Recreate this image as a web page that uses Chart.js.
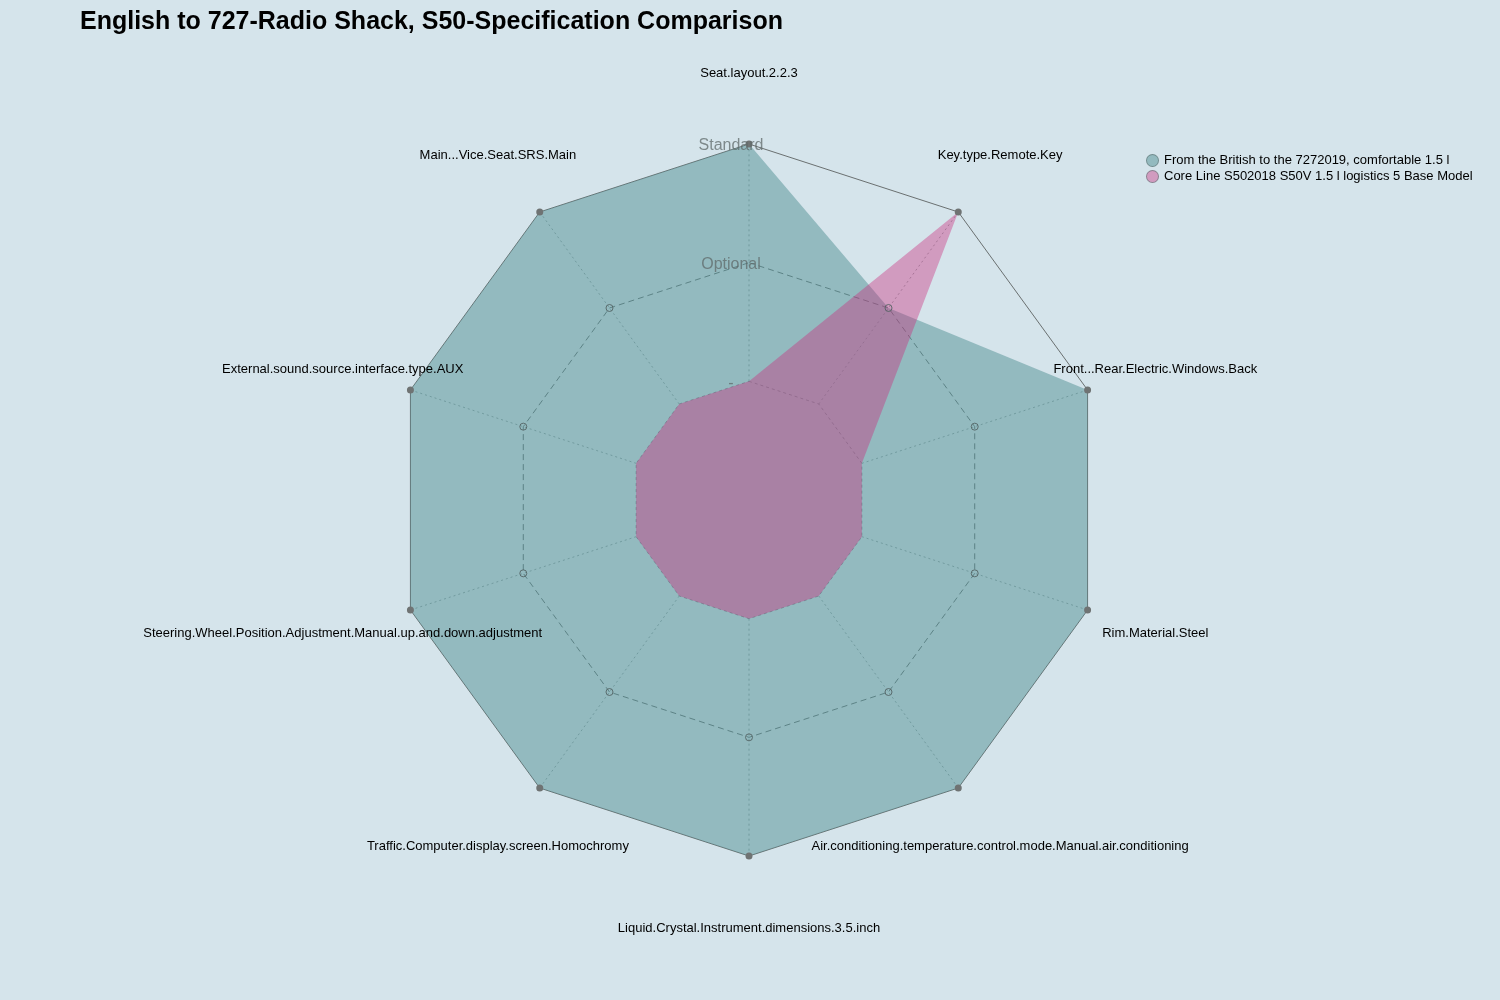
<!DOCTYPE html>
<html>
<head>
<meta charset="utf-8">
<script src="https://cdn.jsdelivr.net/npm/chart.js@4.4.1/dist/chart.umd.min.js"></script>
<style>
  html, body { margin: 0; padding: 0; background: #d5e4eb; }
  #wrap { position: relative; width: 1500px; height: 1000px; background: #d5e4eb; overflow: hidden; }
  #c { position: absolute; left: 0; top: 0; }
  #title { position: absolute; left: 80px; top: 6px; font: bold 25px "Liberation Sans", Arial, sans-serif; color: #000; white-space: nowrap; }
  #legend { position: absolute; left: 1146px; top: 152px; font: 13px "Liberation Sans", Arial, sans-serif; color: #000; }
  .li { height: 16px; line-height: 16px; white-space: nowrap; display: flex; align-items: center; }
  .dot { width: 13px; height: 13px; border-radius: 50%; margin-right: 5px; box-sizing: border-box; border: 1px solid rgba(90,110,110,0.6); }
</style>
</head>
<body>
<div id="wrap">
  <canvas id="c" width="1500" height="1000"></canvas>
  <div id="title">English to 727-Radio Shack, S50-Specification Comparison</div>
  <div id="legend"></div>
</div>
<script>
const categories = [
  "Seat.layout.2.2.3",
  "Key.type.Remote.Key",
  "Front...Rear.Electric.Windows.Back",
  "Rim.Material.Steel",
  "Air.conditioning.temperature.control.mode.Manual.air.conditioning",
  "Liquid.Crystal.Instrument.dimensions.3.5.inch",
  "Traffic.Computer.display.screen.Homochromy",
  "Steering.Wheel.Position.Adjustment.Manual.up.and.down.adjustment",
  "External.sound.source.interface.type.AUX",
  "Main...Vice.Seat.SRS.Main"
];
const seriesNames = [
  "From the British to the 7272019, comfortable 1.5 l",
  "Core Line S502018 S50V 1.5 l logistics 5 Base Model"
];
const seriesA = [3, 2, 3, 3, 3, 3, 3, 3, 3, 3];
const seriesB = [1, 3, 1, 1, 1, 1, 1, 1, 1, 1];
const tickLabels = ["", "-", "Optional", "Standard"];

const fillA = "rgba(81,144,147,0.5)";
const fillB = "rgba(203,46,125,0.4)";

// legend
const legendEl = document.getElementById('legend');
[[seriesNames[0], fillA], [seriesNames[1], fillB]].forEach(([n, c]) => {
  const row = document.createElement('div');
  row.className = 'li';
  const d = document.createElement('span');
  d.className = 'dot';
  d.style.background = c;
  row.appendChild(d);
  const t = document.createElement('span');
  t.textContent = n;
  row.appendChild(t);
  legendEl.appendChild(row);
});

const decorPlugin = {
  id: 'decor',
  beforeDatasetsDraw(chart) {
    const scale = chart.scales.r;
    const ctx = chart.ctx;
    ctx.save();
    ctx.strokeStyle = 'rgba(100,125,125,0.6)';
    ctx.lineWidth = 1;
    ctx.setLineDash([2, 3]);
    for (let i = 0; i < categories.length; i++) {
      const a = scale.getPointPositionForValue(i, 1);
      const b = scale.getPointPositionForValue(i, 3);
      ctx.beginPath();
      ctx.moveTo(a.x, a.y);
      ctx.lineTo(b.x, b.y);
      ctx.stroke();
    }
    ctx.restore();
  },
  afterDatasetsDraw(chart) {
    const scale = chart.scales.r;
    const ctx = chart.ctx;
    ctx.save();
    // ring markers
    for (let i = 0; i < categories.length; i++) {
      const p3 = scale.getPointPositionForValue(i, 3);
      ctx.beginPath();
      ctx.arc(p3.x, p3.y, 3.5, 0, Math.PI * 2);
      ctx.fillStyle = '#6f7373';
      ctx.fill();
      if (i !== 0) {
        const p2 = scale.getPointPositionForValue(i, 2);
        ctx.beginPath();
        ctx.arc(p2.x, p2.y, 3.5, 0, Math.PI * 2);
        ctx.strokeStyle = 'rgba(80,95,95,0.85)';
        ctx.lineWidth = 1;
        ctx.stroke();
      }
    }
    // tick labels
    ctx.font = '16px "Liberation Sans", Arial, sans-serif';
    ctx.textAlign = 'center';
    ctx.textBaseline = 'middle';
    ctx.fillStyle = 'rgba(95,105,105,0.75)';
    for (let v = 1; v < tickLabels.length; v++) {
      const p = scale.getPointPositionForValue(0, v);
      ctx.fillText(tickLabels[v], p.x - 18, p.y + 2);
    }
    // point labels
    ctx.font = '13px "Liberation Sans", Arial, sans-serif';
    ctx.fillStyle = '#000';
    for (let i = 0; i < categories.length; i++) {
      const p = scale.getPointPosition(i, scale.drawingArea * 1.2);
      ctx.fillText(categories[i], p.x, p.y + 1);
    }
    ctx.restore();
  }
};

new Chart(document.getElementById('c'), {
  type: 'radar',
  data: {
    labels: categories,
    datasets: [
      { label: seriesNames[0], data: seriesA, backgroundColor: fillA, borderWidth: 0, pointRadius: 0, fill: true, order: 2 },
      { label: seriesNames[1], data: seriesB, backgroundColor: fillB, borderWidth: 0, pointRadius: 0, fill: true, order: 1 }
    ]
  },
  options: {
    responsive: false,
    devicePixelRatio: 1,
    animation: false,
    layout: { padding: { top: 144, bottom: 144, left: 0, right: 2 } },
    plugins: { legend: { display: false }, title: { display: false }, tooltip: { enabled: false } },
    elements: { line: { tension: 0 } },
    scales: {
      r: {
        min: 0,
        max: 3,
        ticks: { stepSize: 1, display: false },
        pointLabels: { display: false },
        grid: {
          circular: false,
          color: (c) => c.index === 3 ? 'rgba(100,105,105,0.95)' : (c.index === 2 ? 'rgba(75,90,90,0.8)' : 'rgba(90,110,110,0.6)'),
          lineWidth: 1
        },
        border: {
          dash: (c) => c.index === 3 ? [] : (c.index === 2 ? [6, 4] : [3, 3])
        },
        angleLines: { display: false }
      }
    }
  },
  plugins: [decorPlugin]
});
</script>
</body>
</html>
